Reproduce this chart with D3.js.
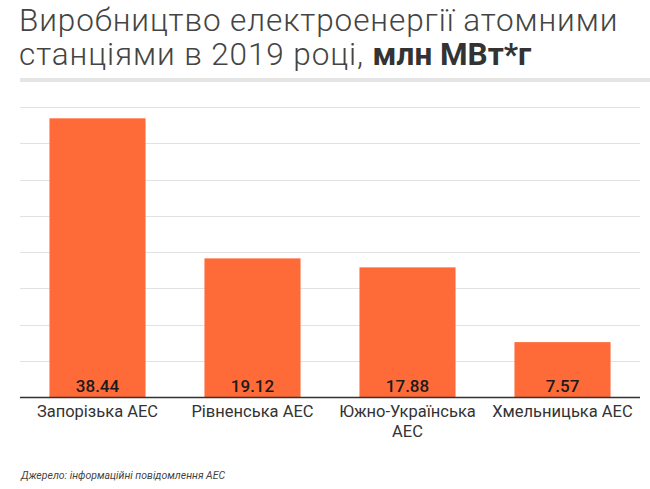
<!DOCTYPE html>
<html><head><meta charset="utf-8">
<script src="https://cdn.jsdelivr.net/npm/d3@7"></script>
<style>
body{margin:0;background:#fff;}
svg{display:block;font-family:Roboto,"Noto Sans",sans-serif;}
</style></head>
<body><svg id="chart" width="650" height="489"></svg>
<script>
const categories = [["Запорізька АЕС"], ["Рівненська АЕС"], ["Южно-Українська", "АЕС"], ["Хмельницька АЕС"]];
const values = [38.44, 19.12, 17.88, 7.57];
const yTicks = [0, 5, 10, 15, 20, 25, 30, 35, 40];
const titleLines = ["Виробництво електроенергії атомними", "станціями в 2019 році, "];
const titleBold = "млн МВт*г";
const source = "Джерело: інформаційні повідомлення АЕС";

(function(){
const svg = d3.select("#chart");
const mLeft = 20, mRight = 640, mTop = 107, mBottom = 397;

const x = d3.scaleBand().domain(d3.range(values.length)).range([mLeft, mRight]).paddingInner(0.38).paddingOuter(0.19);
const y = d3.scaleLinear().domain([0, 40]).range([mBottom, mTop]);

// title
const t = svg.append("g").attr("fill", "#444").style("font-weight", 300)
  .style("font-size", "31.5px").style("letter-spacing", "0.9px");
t.append("text").attr("x", 19).attr("y", 31).text(titleLines[0]);
const l2 = t.append("text").attr("x", 19).attr("y", 65).text(titleLines[1]);
l2.append("tspan").style("font-weight", 700).style("letter-spacing", "0px").attr("fill", "#333").text(titleBold);

svg.append("rect").attr("x", 20).attr("y", 78).attr("width", 630).attr("height", 4).attr("fill", "#e5e5e5");

// grid
svg.append("g").selectAll("line").data(yTicks.filter(d => d > 0)).join("line")
  .attr("x1", mLeft).attr("x2", mRight)
  .attr("y1", d => Math.round(y(d)) + 0.5).attr("y2", d => Math.round(y(d)) + 0.5)
  .attr("stroke", "#e2e2e2").attr("stroke-width", 1);

// bars
svg.append("g").selectAll("rect").data(values).join("rect")
  .attr("x", (d, i) => x(i)).attr("width", x.bandwidth())
  .attr("y", d => y(d)).attr("height", d => y(0) - y(d))
  .attr("fill", "#ff6a39");

// value labels
svg.append("g").selectAll("text").data(values).join("text")
  .attr("x", (d, i) => x(i) + x.bandwidth() / 2).attr("y", mBottom - 5.5)
  .attr("text-anchor", "middle").attr("fill", "#1a1a1a")
  .style("font-size", "17px").style("font-weight", 500)
  .text(d => d.toFixed(2));

// baseline
svg.append("line").attr("x1", mLeft).attr("x2", mRight).attr("y1", mBottom + 0.5).attr("y2", mBottom + 0.5)
  .attr("stroke", "#333").attr("stroke-width", 1.5);

// category labels
const cg = svg.append("g").selectAll("text").data(categories).join("text")
  .attr("x", (d, i) => x(i) + x.bandwidth() / 2).attr("y", 417)
  .attr("text-anchor", "middle").attr("fill", "#333").style("font-size", "16.5px");
cg.selectAll("tspan").data(d => d).join("tspan")
  .attr("x", function(){ return this.parentNode.getAttribute("x"); })
  .attr("dy", (d, i) => i === 0 ? 0 : 20).text(d => d);

// source
svg.append("text").attr("x", 21).attr("y", 479).attr("fill", "#444")
  .style("font-size", "10.5px").style("font-style", "italic").text(source);
})();
</script></body></html>
